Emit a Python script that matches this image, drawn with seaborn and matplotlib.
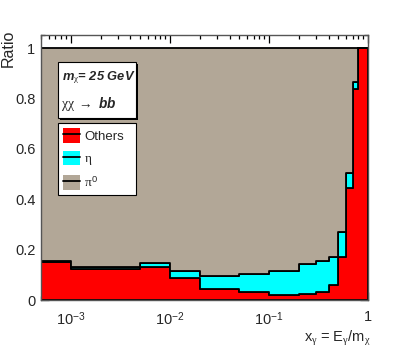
import numpy as np
import pandas as pd
import matplotlib
matplotlib.use("Agg")
import matplotlib.pyplot as plt
import seaborn as sns
from matplotlib.patches import Patch, Rectangle
from matplotlib.lines import Line2D
from matplotlib.ticker import LogLocator, NullFormatter, MultipleLocator, FixedLocator

# bin edges of x_gamma = E_gamma / m_chi
edges = [5e-4, 1e-3, 5e-3, 1e-2, 2e-2, 5e-2, 0.1, 0.2, 0.3, 0.4, 0.5, 0.6, 0.7, 0.8, 0.9, 1.0]

# fraction of photons per bin for each source
others = [0.152, 0.122, 0.130, 0.087, 0.045, 0.030, 0.020, 0.024, 0.032, 0.060, 0.170, 0.443, 0.837, 1.0, 1.0]
eta = [0.002, 0.008, 0.018, 0.028, 0.049, 0.072, 0.095, 0.119, 0.124, 0.111, 0.099, 0.060, 0.030, 0.0, 0.0]
pi0 = [0.846, 0.870, 0.852, 0.885, 0.906, 0.898, 0.885, 0.857, 0.844, 0.829, 0.731, 0.497, 0.133, 0.0, 0.0]

xticks = [1e-3, 1e-2, 1e-1, 1.0]
xticklabels = ["$10^{-3}$", "$10^{-2}$", "$10^{-1}$", "1"]
yticks = [0, 0.2, 0.4, 0.6, 0.8, 1.0]
yticklabels = ["0", "0.2", "0.4", "0.6", "0.8", "1"]

W, H = 409, 354

sns.set_style("ticks")
plt.rcParams['font.family'] = ['Liberation Sans', 'DejaVu Sans']
plt.rcParams['mathtext.fontset'] = 'custom'
plt.rcParams['mathtext.rm'] = 'Liberation Sans'
plt.rcParams['mathtext.it'] = 'Liberation Serif'   # greek letters, symbol-font look
plt.rcParams['mathtext.bf'] = 'Liberation Sans:bold'

lo = np.array(edges[:-1])
hi = np.array(edges[1:])
centers = np.sqrt(lo * hi)
df = pd.concat([
    pd.DataFrame({'x': centers, 'ratio': others, 'comp': 'others'}),
    pd.DataFrame({'x': centers, 'ratio': eta, 'comp': 'eta'}),
    pd.DataFrame({'x': centers, 'ratio': pi0, 'comp': 'pi0'}),
])

pal = {'others': '#ff0000', 'eta': '#00ffff', 'pi0': '#b2a797'}

fig = plt.figure(figsize=(W / 100, H / 100), dpi=100)
ax = fig.add_axes([41 / W, 1 - 300 / H, 327 / W, 265 / H])

# last hue level ends up at the bottom of the stack
sns.histplot(data=df, x='x', weights='ratio', hue='comp',
             hue_order=['pi0', 'eta', 'others'], bins=edges,
             multiple='stack', element='step', palette=pal, alpha=1,
             edgecolor='black', linewidth=1.3, legend=False, ax=ax)

ax.set_xscale('log')
ax.set_xlim(5e-4, 1.0)
ax.set_ylim(0, 1.0516)
ax.set_xlabel('')
ax.set_ylabel('')

ax.xaxis.set_major_locator(FixedLocator(xticks))
ax.set_xticklabels(xticklabels)
ax.xaxis.set_minor_locator(LogLocator(base=10, subs=np.arange(2, 10), numticks=20))
ax.xaxis.set_minor_formatter(NullFormatter())
ax.set_yticks(yticks)
ax.set_yticklabels(yticklabels)
ax.yaxis.set_minor_locator(MultipleLocator(0.05))

ax.tick_params(which='both', direction='in', top=True, right=True, color='black', width=0.9)
ax.tick_params(which='major', length=6, labelsize=10.5)
ax.tick_params(axis='x', which='major', pad=7)
ax.tick_params(axis='y', which='major', pad=4)
ax.tick_params(which='minor', length=3.2)
for sp in ax.spines.values():
    sp.set_color('#555555')
    sp.set_linewidth(1.0)
    sp.set_zorder(5)

fig.text(8 / W, 1 - 30 / H, 'Ratio', rotation=90, ha='center', va='top', fontsize=11.5)
fig.text(371 / W, 1 - 338 / H, r'x$_{\gamma}$ = E$_{\gamma}$/m$_{\chi}$', ha='right', va='center', fontsize=10.5)

# text box with shadow
fig.add_artist(Rectangle((60 / W, 1 - 119.5 / H), 78 / W, 56 / H, transform=fig.transFigure,
                         facecolor='black', edgecolor='none', zorder=4))
fig.add_artist(Rectangle((58 / W, 1 - 117.5 / H), 78 / W, 56 / H, transform=fig.transFigure,
                         facecolor='white', edgecolor='black', linewidth=0.8, zorder=5))
fig.text(62 / W, 1 - 78 / H, r'm$_{\chi}$= 25 GeV', fontweight='bold', fontstyle='italic',
         fontsize=9.3, va='center', ha='left', zorder=6)
fig.text(61 / W, 1 - 104 / H, r'$\chi\chi\ \rightarrow$ bb', fontweight='bold', fontstyle='italic',
         fontsize=9.8, va='center', ha='left', zorder=6)

# legend
handles = [
    (Patch(facecolor=pal['others'], edgecolor='none'), Line2D([], [], color='black', lw=1.3)),
    (Patch(facecolor=pal['eta'], edgecolor='none'), Line2D([], [], color='black', lw=1.3)),
    (Patch(facecolor=pal['pi0'], edgecolor='none'), Line2D([], [], color='black', lw=1.3)),
]
labels = ['Others', r'$\eta$', r'$\pi^{0}$']
leg = fig.legend(handles, labels, loc='upper left',
                 bbox_to_anchor=(58 / W, 1 - 193 / H, 78 / W, 70 / H), mode='expand',
                 borderaxespad=0, fontsize=9.5, frameon=True, fancybox=False,
                 edgecolor='black', framealpha=1, handlelength=1.3, handleheight=1.3,
                 handletextpad=0.3, labelspacing=0.6, borderpad=0.4)
leg.get_frame().set_linewidth(0.8)
leg.set_zorder(6)

fig.savefig('out.png', dpi=100)
